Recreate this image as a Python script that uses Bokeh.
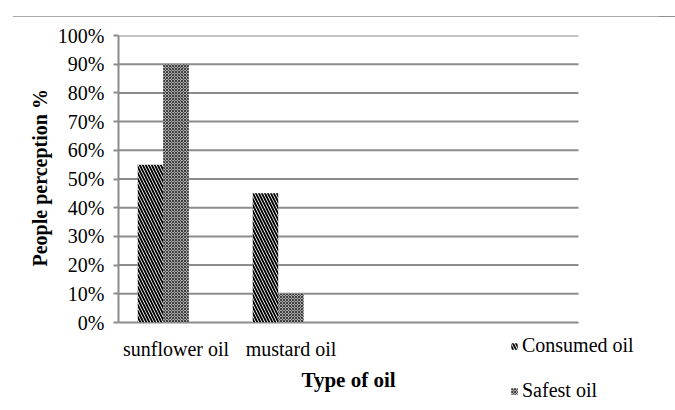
from bokeh.plotting import figure
from bokeh.models import (ColumnDataSource, FixedTicker, PrintfTickFormatter, Range1d,
                          Legend, LegendItem, Div, Title)
from bokeh.core.properties import value
from bokeh.layouts import column
from bokeh.embed import file_html
from bokeh.resources import INLINE

# ---- data ----
categories = ["sunflower oil", "mustard oil"]
consumed = [55, 45]
safest = [90, 10]
series_names = ["Consumed oil", "Safest oil"]
y_ticks = [0, 10, 20, 30, 40, 50, 60, 70, 80, 90, 100]
x_title = "Type of oil"
y_title = "People perception %"
n_slots = 4          # category slots on the axis (two empty)
bar_w = 0.222        # bar width in category units

FONT = "Liberation Serif"
GRID = "#8c8c8c"

# layout constants (pixels)
FIG_W, FIG_H = 659, 386
LEFT, TOP = 118, 19
PLOT_H = 287          # pixels for 0..100 %
SLOT_PX = 115         # pixels per category slot
YTITLE_LEN = 175      # approx. rendered length of the y title

frame_w = FIG_W - LEFT
frame_h = FIG_H - TOP
y_lo = 100 - frame_h * 100 / PLOT_H
x_hi = 0.5 + frame_w / SLOT_PX

pos = [i + 1 for i in range(len(categories))]
src_c = ColumnDataSource(dict(x=[q - bar_w for q in pos], top=consumed))
src_s = ColumnDataSource(dict(x=pos, top=safest))

p = figure(width=FIG_W, height=FIG_H, output_backend="svg", toolbar_location=None,
           x_range=Range1d(0.5, x_hi), y_range=Range1d(y_lo, 100),
           min_border_left=LEFT, min_border_right=0, min_border_top=TOP,
           min_border_bottom=0)
p.outline_line_color = None
p.background_fill_color = "white"
p.border_fill_color = "white"
p.xgrid.visible = False
p.ygrid.visible = False
p.xaxis.visible = False

# horizontal grid lines across the category slots
p.segment(x0=[0.5] * len(y_ticks), x1=[n_slots + 0.5] * len(y_ticks),
          y0=y_ticks, y1=y_ticks, line_color=GRID, line_width=2)

r1 = p.vbar(x="x", top="top", bottom=0, width=bar_w, source=src_c,
            fill_color="white", line_color=None,
            hatch_pattern="left_diagonal_line", hatch_color="black",
            hatch_weight=1.9, hatch_scale=6)
r2 = p.vbar(x="x", top="top", bottom=0, width=bar_w, source=src_s,
            fill_color="#a8a8a8", line_color=None,
            hatch_pattern="diagonal_cross", hatch_color="#404040",
            hatch_weight=1, hatch_scale=3)

# y axis
p.yaxis.bounds = (0, 100)
p.yaxis.ticker = FixedTicker(ticks=y_ticks)
p.yaxis.formatter = PrintfTickFormatter(format="%d%%")
p.yaxis.axis_line_color = GRID
p.yaxis.axis_line_width = 2
p.yaxis.major_tick_line_color = GRID
p.yaxis.major_tick_line_width = 2
p.yaxis.major_tick_out = 5
p.yaxis.major_tick_in = 0
p.yaxis.minor_tick_line_color = None
p.yaxis.major_label_text_font = FONT
p.yaxis.major_label_text_font_size = "20px"
p.yaxis.major_label_text_color = "black"
p.yaxis.major_label_standoff = 9

# y title: centred on the 0..100 % span (frame extends below it)
ytitle = Title(text=y_title, align="left",
               offset=(frame_h - PLOT_H) + (PLOT_H - YTITLE_LEN) / 2, standoff=7,
               text_font=FONT, text_font_style="bold", text_font_size="20px",
               text_color="black")
p.add_layout(ytitle, "left")

# category labels and x title below the 0 % line
p.text(x=pos, y=[0] * len(pos), text=categories, y_offset=26,
       text_font=value(FONT), text_font_size="20px", text_color="black",
       text_align="center", text_baseline="middle")
p.text(x=[(n_slots + 1) / 2], y=[0], text=[x_title], y_offset=57,
       text_font=value(FONT), text_font_size="21px", text_font_style="bold",
       text_color="black", text_align="center", text_baseline="middle")

legend = Legend(items=[LegendItem(label=series_names[0], renderers=[r1]),
                       LegendItem(label=series_names[1], renderers=[r2])],
                location=(392, 0), orientation="vertical",
                glyph_width=8, glyph_height=8, label_standoff=4,
                label_height=22, spacing=22, padding=0, margin=0,
                border_line_color=None, background_fill_alpha=0,
                label_text_font=FONT, label_text_font_size="20px",
                label_text_color="black")
p.add_layout(legend, "center")

top_line = Div(text='<div style="margin:3px 0 0 8px;border-top:1.5px solid #8f8f8f;width:667px;height:0"></div>',
               width=FIG_W, height=6)

layout = column(top_line, p, spacing=0)
open("out.html", "w").write(file_html(layout, INLINE))
